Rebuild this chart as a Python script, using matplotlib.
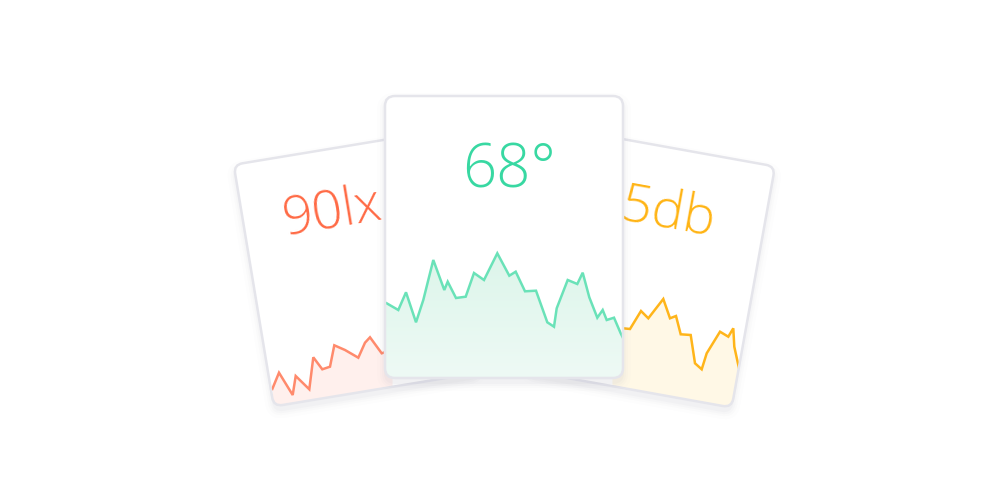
import numpy as np
import matplotlib.pyplot as plt
from matplotlib.patches import FancyBboxPatch, Polygon
from matplotlib.transforms import Affine2D
from matplotlib.colors import LinearSegmentedColormap

plt.rcParams['font.family'] = ['Open Sans', 'DejaVu Sans']

# sparkline readings (pixel positions on the picture)
lux_x = [272.3, 279, 292.7, 295.7, 309.3, 313.3, 322.3, 330, 334.3, 345, 358.3, 365, 370, 381.7, 392]
lux_y = [389, 372.7, 395, 376, 389.3, 357.3, 369.3, 366.7, 345.3, 350, 357.7, 342.7, 337.3, 353.3, 350]

temp_x = [386.7, 398.3, 406, 416, 423.3, 433.3, 444.3, 447.7, 456, 465.7, 474, 484, 497.3,
          509.3, 515.7, 525, 536, 547.3, 554, 556.7, 567.7, 577.3, 582.7, 589.3, 597.3,
          602.7, 606.7, 614, 620.7, 624]
temp_y = [303.3, 310, 292.3, 322.3, 300, 260, 290, 281.7, 298, 296.7, 273, 280, 253.3,
          275.7, 271.7, 291.3, 290.7, 322.3, 326.7, 308.3, 280, 284, 272.7, 297.3, 317.7,
          310, 320, 317.7, 333.3, 340]

noise_x = [612, 623.3, 630, 641, 648.3, 663.3, 670, 676, 680.7, 690.7, 695, 701.7, 706.7,
           720, 728.3, 733.3, 734.3, 739]
noise_y = [325, 328.3, 329, 311, 318.3, 299, 318.3, 316, 334.3, 335, 363.3, 369.3, 353.3,
           331.7, 336.7, 328.3, 346.7, 368.3]

labels = ["90lx", "68°", "45db"]
text_col = ["#ff6a45", "#38d8a2", "#ffb414"]
line_col = ["#ff8a6c", "#6ae2b8", "#ffb51a"]
fill_col = ["#fff0ed", "#e2f7ee", "#fff8e6"]

fig = plt.figure(figsize=(10.08, 5.04), dpi=100)
ax = fig.add_axes([0, 0, 1, 1])
ax.set_xlim(0, 1008)
ax.set_ylim(504, 0)
ax.axis('off')


def card(cx, cy, w, h, tilt, z, r=10):
    tr = Affine2D().rotate_deg(-tilt).translate(cx, cy) + ax.transData
    # soft shadow
    for pad, a in [(16, 0.012), (10, 0.018), (6, 0.025), (2, 0.035)]:
        sh = FancyBboxPatch((-w / 2 - pad / 2, -h / 2 + 5 - pad / 2), w + pad, h + pad,
                            boxstyle=f"round,pad=0,rounding_size={r + pad / 2}",
                            transform=tr, fc='#7a7a95', ec='none', alpha=a, zorder=z - 0.5)
        ax.add_patch(sh)
    base = FancyBboxPatch((-w / 2, -h / 2), w, h, boxstyle=f"round,pad=0,rounding_size={r}",
                          transform=tr, fc='white', ec='none', zorder=z)
    ax.add_patch(base)
    edge = FancyBboxPatch((-w / 2, -h / 2), w, h, boxstyle=f"round,pad=0,rounding_size={r}",
                          transform=tr, fc='none', ec='#e5e5eb', lw=1.8, zorder=z + 0.4)
    ax.add_patch(edge)
    return base


# left card (light)
p = card(355.8, 268.7, 207, 245, 9.4, 1, r=9)
f = ax.fill_between(lux_x, lux_y, 430, color=fill_col[0], lw=0, zorder=1.1)
f.set_clip_path(p)
l, = ax.plot(lux_x, lux_y, color=line_col[0], lw=1.8, zorder=1.2, solid_joinstyle='miter')
l.set_clip_path(p)
t = ax.text(285, 236, labels[0], color=text_col[0], fontsize=38.5, fontweight='light',
            rotation=9.4, rotation_mode='anchor', ha='left', va='baseline', zorder=1.3)
t.set_clip_path(p)

# right card (noise)
p = card(651.5, 268.7, 207, 245, -10.2, 2, r=9)
f = ax.fill_between(noise_x, noise_y, 430, color=fill_col[2], lw=0, zorder=2.1)
f.set_clip_path(p)
l, = ax.plot(noise_x, noise_y, color=line_col[2], lw=1.8, zorder=2.2, solid_joinstyle='miter')
l.set_clip_path(p)
t = ax.text(713, 236, labels[2], color=text_col[2], fontsize=38.5, fontweight='light',
            rotation=-10.2, rotation_mode='anchor', ha='right', va='baseline', zorder=2.3)
t.set_clip_path(p)

# center card (temperature)
p = card(504, 237, 238, 282, 0, 3, r=10)
grad = np.linspace(0, 1, 100).reshape(-1, 1)
cmap = LinearSegmentedColormap.from_list('g', ['#dcf5ea', '#eefaf5'])
im = ax.imshow(grad, extent=[385, 623, 378, 250], cmap=cmap, aspect='auto', zorder=3.1,
               interpolation='bilinear')
im.set_clip_path(p)
top = Polygon(list(zip(temp_x, temp_y)) + [(624, 90), (380, 90), (380, temp_y[0])],
              closed=True, fc='white', ec='none', zorder=3.15)
ax.add_patch(top)
top.set_clip_path(p)
l, = ax.plot(temp_x, temp_y, color=line_col[1], lw=1.8, zorder=3.2, solid_joinstyle='miter')
l.set_clip_path(p)
ax.text(509.5, 188, labels[1], color=text_col[1], fontsize=43, fontweight='light',
        ha='center', va='baseline', zorder=3.3)

fig.savefig('out.png', dpi=100, facecolor='white')
